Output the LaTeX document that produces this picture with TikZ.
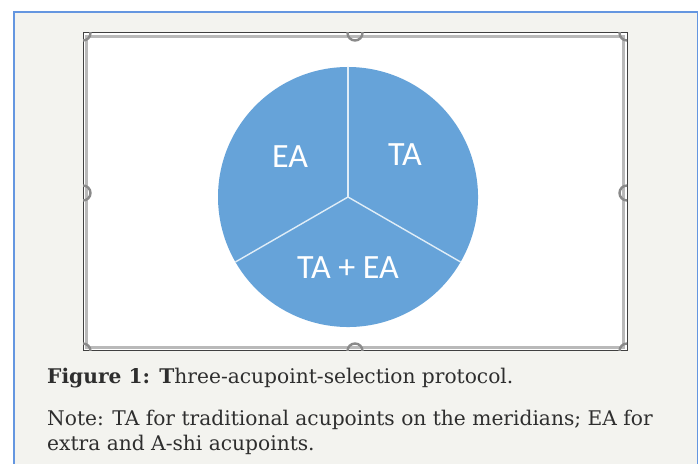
\documentclass[tikz,border=0pt]{standalone}
\usepackage{fontspec}
\setmainfont{DejaVu Serif}
\newfontfamily\chartfont{Carlito}
\definecolor{panelBack}{HTML}{F3F3EF}
\definecolor{panelEdge}{HTML}{6496E0}
\definecolor{sliceBlue}{HTML}{66A3D9}
\definecolor{handleGrey}{HTML}{8A8A8A}
\definecolor{captionInk}{HTML}{2E2E2E}

\begin{document}
\begin{tikzpicture}[x=1pt, y=1pt,
    handle/.style={draw=handleGrey, line width=2.4pt},
    divider/.style={draw=white!80!sliceBlue, line width=1.4pt},
    pielabel/.style={font=\chartfont\fontsize{34}{36}\selectfont, text=white},
    captext/.style={font=\fontsize{20.2}{25}\selectfont, text=captionInk, anchor=base west, inner sep=0pt}]
    \useasboundingbox (0,0) rectangle (698,463);
    \fill[white] (0,0) rectangle (698,463);
    % panel behind the figure
    \draw[panelEdge, fill=panelBack, line width=1.2pt] (14,-10) rectangle (697.4,451);
    % picture frame
    \fill[white] (83,112) rectangle (627,430);
    \draw[handleGrey!60, line width=2.4pt] (86.5,115.5) rectangle (623.5,426.5);
    \draw[black!75, line width=1pt] (83,112) rectangle (627,430);
    \begin{scope}
        \clip (83,112) rectangle (627,430);
        \foreach \hx/\hy in {83/430, 355/430, 627/430, 83/270, 627/270, 83/112, 355/112, 627/112}
            \draw[handle] (\hx,\hy) circle (7.5);
    \end{scope}
    % pie
    \coordinate (pie) at (348,266);
    \foreach \a/\b in {90/210, 210/330, -30/90}
        \fill[sliceBlue] (pie) -- ++(\a:130) arc (\a:\b:130) -- cycle;
    \foreach \a in {90, 210, 330}
        \draw[divider] (pie) -- ++(\a:130);
    \node[pielabel] (ea) at (290,306) {EA};
    \node[pielabel] (ta) at (405,308) {TA};
    \node[pielabel] (taea) at (348,195) {TA + EA};
    % caption
    \node[captext] (caption) at (47,80) {\textbf{Figure 1: T}hree-acupoint-selection protocol.};
    \node[captext] (note) at (47,38) {Note: TA for traditional acupoints on the meridians; EA for};
    \node[captext] (notemore) at (47,13) {extra and A-shi acupoints.};
\end{tikzpicture}
\end{document}
